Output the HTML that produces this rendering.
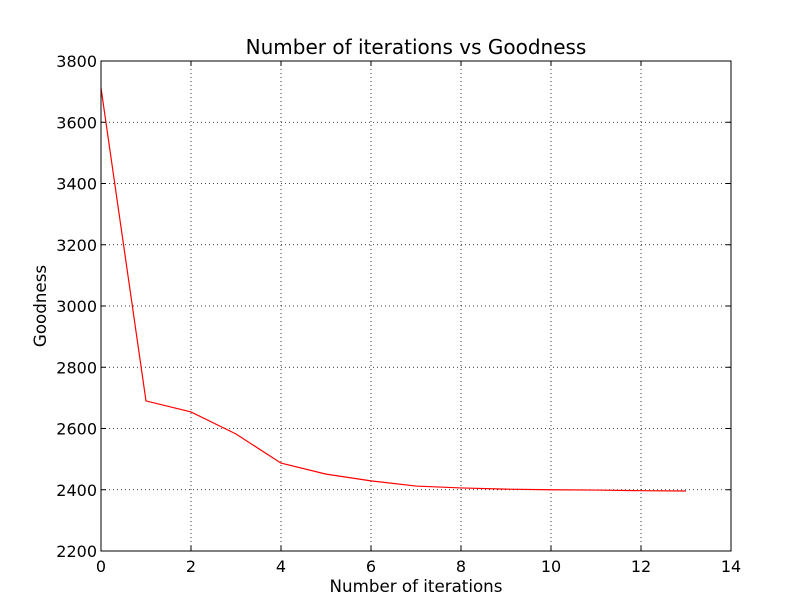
<!DOCTYPE html>
<html><head><meta charset="utf-8"><style>
body{margin:0;background:#fff;}
svg{display:block;font-family:"DejaVu Sans","Liberation Sans",sans-serif;}
</style></head><body>
<svg id="chart" width="812" height="612">
<rect width="812" height="612" fill="#fff"/>
<g id="grid"></g>
<g id="line"></g>
<rect x="101" y="61" width="630" height="490" fill="none" stroke="#000" stroke-width="1"/>
<g id="ticks"></g>
<text x="416" y="54" font-size="20" text-anchor="middle">Number of iterations vs Goodness</text>
<text x="416" y="592" font-size="16.7" text-anchor="middle">Number of iterations</text>
<text x="46" y="306" font-size="16.7" text-anchor="middle" transform="rotate(-90 46 306)">Goodness</text>
</svg>
<script>
const iterations=[0,1,2,3,4,5,6,7,8,9,10,11,12,13];
const goodness=[3712,2690,2654,2582,2487,2451,2429,2412,2406,2402,2400,2399,2397,2396];
const xTicks=[0,2,4,6,8,10,12,14];
const yTicks=[2200,2400,2600,2800,3000,3200,3400,3600,3800];
const NS='http://www.w3.org/2000/svg';
const L=101,R=731,T=61,B=551;
const sx=v=>L+(v-0)/(14-0)*(R-L);
const sy=v=>B-(v-2200)/(3800-2200)*(B-T);
const grid=document.getElementById('grid'),ticks=document.getElementById('ticks'),lineG=document.getElementById('line');
function mk(tag,attrs,parent){const e=document.createElementNS(NS,tag);for(const k in attrs)e.setAttribute(k,attrs[k]);parent.appendChild(e);return e;}
xTicks.forEach(v=>{const x=sx(v);
 const g=mk('line',{x1:x,x2:x,y1:T,y2:B,stroke:'#000','stroke-dasharray':'1,3','stroke-width':0.8},grid);
 
 
 mk('line',{x1:x,x2:x,y1:B,y2:B-5,stroke:'#000'},ticks);
 mk('line',{x1:x,x2:x,y1:T,y2:T+5,stroke:'#000'},ticks);
 const t=mk('text',{x:x,y:B+21,'font-size':16,'text-anchor':'middle'},ticks);t.textContent=v;
 
 
});
yTicks.forEach(v=>{const y=sy(v);
 const g=mk('line',{x1:L,x2:R,y1:y,y2:y,stroke:'#000','stroke-dasharray':'1,3','stroke-width':0.8},grid);
 
 
 mk('line',{x1:L,x2:L+5,y1:y,y2:y,stroke:'#000'},ticks);
 mk('line',{x1:R,x2:R-5,y1:y,y2:y,stroke:'#000'},ticks);
 const t=mk('text',{x:L-4,y:y+6,'font-size':16,'text-anchor':'end'},ticks);t.textContent=v;
 
 
});
const pts=iterations.map((v,i)=>sx(v)+','+sy(goodness[i])).join(' ');
const pl=mk('polyline',{points:pts,fill:'none',stroke:'#ff0000','stroke-width':1.2},lineG);


</script>
</body></html>
